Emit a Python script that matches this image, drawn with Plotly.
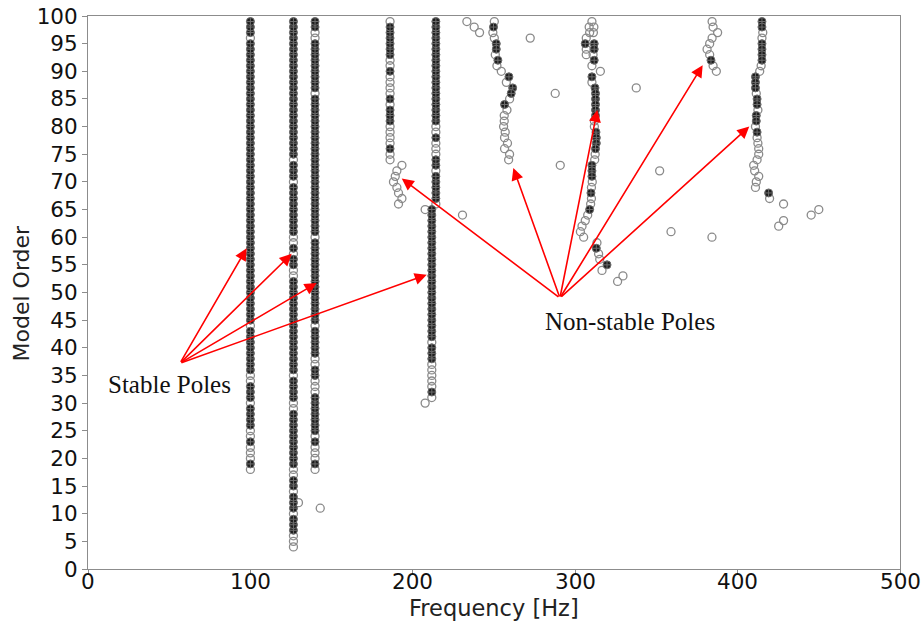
import plotly.graph_objects as go

# ---------------- data ----------------
# straight pole columns: frequency, first/last model order, orders whose pole is NOT stable
COLUMN_FREQS = [100.0, 126.5, 139.8, 186.0, 214.2, 211.7]
COLUMN_FIRST = [18, 4, 18, 74, 66, 31]
COLUMN_LAST = [99, 99, 99, 99, 99, 65]
COLUMN_UNSTABLE = [
    [96, 44, 35, 34, 30, 25, 24, 22, 21, 20, 18],
    [74, 70, 60, 59, 57, 54, 53, 35, 30, 29, 18, 17, 14, 10, 6, 5, 4],
    [97, 96, 86, 60, 44, 38, 37, 34, 33, 32, 24, 22, 21, 20, 18],
    [99, 92, 91, 89, 88, 87, 86, 84, 80, 79, 78, 77, 75, 74],
    [80, 79, 77, 76, 75, 72, 66],
    [41, 37, 36, 35, 34, 33, 31],
]

# scattered / drifting non-stable poles
UNSTABLE_FREQ = [
    193.3, 190.2, 189.2, 188.1, 190.2, 191.2, 193.3, 191.2,           # ~190 Hz zigzag
    207.6, 207.6, 230.6, 233.3, 237.8, 241.1, 272.3,                   # near 210-270 Hz
    250.2, 249.3, 250.2, 250.8, 251.8, 254.5, 257.6, 259.6, 258.0,     # ~255 Hz branch
    256.3, 256.3, 255.9, 256.9, 256.5, 258.3, 256.5, 259.6, 259.0,
    310.3, 308.6, 311.5, 308.9, 311.2, 306.8, 306.8, 306.8, 311.0,     # ~310 Hz branch
    310.3, 315.5, 310.3, 311.8, 311.8, 312.3, 312.0, 310.5, 310.0,
    310.0, 309.5, 307.7, 306.2, 304.2, 303.2, 305.2, 313.4, 314.4,
    315.1, 316.5, 326.1, 329.4,
    287.7, 290.8, 337.6, 352.0, 359.0, 384.2, 129.6, 143.0,            # isolated
    384.3, 384.9, 387.7, 384.3, 382.8, 381.2, 382.8, 384.9, 386.9,     # ~385 Hz branch
    415.5, 415.0, 414.5, 413.6, 411.5, 412.5, 411.0, 412.0, 412.5,     # ~413 Hz branch
    413.0, 413.0, 412.0, 409.9, 410.5, 413.0, 411.5, 411.0, 419.7,
    428.3, 450.0, 445.3, 428.3, 425.3,
]
UNSTABLE_ORDER = [
    73, 72, 71, 70, 69, 68, 67, 66,
    65, 30, 64, 99, 98, 97, 96,
    99, 97, 96, 93, 91, 90, 88, 85, 83,
    82, 81, 80, 79, 78, 77, 76, 75, 74,
    99, 98, 98, 97, 97, 96, 94, 93, 93,
    91, 90, 88, 81, 80, 75, 74, 70, 69,
    67, 66, 64, 63, 62, 61, 60, 59, 57,
    56, 54, 52, 53,
    86, 73, 87, 72, 61, 60, 12, 11,
    99, 98, 97, 96, 95, 94, 93, 91, 90,
    97, 96, 91, 90, 86, 83, 80, 78, 77,
    76, 75, 74, 73, 72, 71, 70, 69, 67,
    66, 65, 64, 63, 62,
]

# drifting stable poles
STABLE_FREQ = [
    249.7, 251.4, 251.4, 252.4, 259.2, 261.5, 260.6, 256.5,
    306.2, 311.7, 311.7, 311.7, 310.3, 312.2, 312.5, 312.5, 312.5, 312.5,
    312.5, 312.8, 313.0, 313.0, 312.5, 310.3, 310.3, 310.3, 309.7, 308.9,
    313.0, 319.6,
    383.6,
    415.0, 415.0, 415.0, 415.0, 415.0, 415.0, 411.0, 411.0, 411.0, 412.0,
    412.0, 411.5, 411.5, 412.0, 419.1,
]
STABLE_ORDER = [
    98, 95, 94, 92, 89, 87, 86, 84,
    95, 95, 94, 92, 89, 87, 86, 85, 84, 83,
    82, 79, 78, 77, 76, 73, 72, 71, 68, 65,
    58, 55,
    92,
    99, 98, 95, 94, 93, 92, 89, 88, 87, 85,
    84, 82, 81, 79, 68,
]

STABLE_LABEL = "Stable Poles"
NONSTABLE_LABEL = "Non-stable Poles"
STABLE_TAIL = (56.6, 37.2)
STABLE_HEADS = [(97.7, 58.0), (125.4, 57.0), (140.8, 51.7), (208.6, 53.2)]
NONSTABLE_TAIL = (290.6, 49.0)
NONSTABLE_HEADS = [(193.2, 70.6), (261.9, 72.5), (313.6, 83.0), (378.5, 91.1), (407.2, 80.0)]

X_TICKS = [0, 100, 200, 300, 400, 500]
X_TICK_LABELS = ["0", "100", "200", "300", "400", "500"]
Y_TICKS = list(range(0, 101, 5))
X_TITLE = "Frequency [Hz]"
Y_TITLE = "Model Order"

# ---------------- assemble points ----------------
gx, gy = list(UNSTABLE_FREQ), list(UNSTABLE_ORDER)
sx, sy = list(STABLE_FREQ), list(STABLE_ORDER)
for f, a, b, uns in zip(COLUMN_FREQS, COLUMN_FIRST, COLUMN_LAST, COLUMN_UNSTABLE):
    for o in range(a, b + 1):
        if o in uns:
            gx.append(f); gy.append(o)
        else:
            sx.append(f); sy.append(o)

fig = go.Figure()
fig.add_trace(go.Scatter(
    x=gx, y=gy, mode="markers",
    marker=dict(symbol="circle-open", size=8, color="#8a8a8a", line=dict(width=1.3, color="#8a8a8a")),
    showlegend=False, hoverinfo="x+y"))
fig.add_trace(go.Scatter(
    x=sx, y=sy, mode="markers",
    marker=dict(symbol="circle-cross", size=8, color="#1e1e1e", line=dict(width=1.0, color="#6e6e6e")),
    showlegend=False, hoverinfo="x+y"))

ann = []
for hx, hy in STABLE_HEADS:
    ann.append(dict(x=hx, y=hy, ax=STABLE_TAIL[0], ay=STABLE_TAIL[1], xref="x", yref="y",
                    axref="x", ayref="y", text="", showarrow=True, arrowhead=2, arrowsize=1.5,
                    arrowwidth=1.6, arrowcolor="#ff0000", standoff=0, startstandoff=0))
for hx, hy in NONSTABLE_HEADS:
    ann.append(dict(x=hx, y=hy, ax=NONSTABLE_TAIL[0], ay=NONSTABLE_TAIL[1], xref="x", yref="y",
                    axref="x", ayref="y", text="", showarrow=True, arrowhead=2, arrowsize=1.5,
                    arrowwidth=1.6, arrowcolor="#ff0000", standoff=0, startstandoff=0))
ann.append(dict(x=50.2, y=33.4, xref="x", yref="y", text=STABLE_LABEL, showarrow=False,
                font=dict(family="Liberation Serif", size=25, color="#111")))
ann.append(dict(x=333.7, y=44.8, xref="x", yref="y", text=NONSTABLE_LABEL, showarrow=False,
                font=dict(family="Liberation Serif", size=25, color="#111")))
# x tick labels (placed tight under the axis like the reference)
for tv, tl in zip(X_TICKS, X_TICK_LABELS):
    ann.append(dict(x=tv, y=-0.0235, xref="x", yref="paper", text=tl, showarrow=False,
                    xanchor="center", yanchor="middle",
                    font=dict(family="DejaVu Sans", size=21.5, color="#111")))
# axis titles
ann.append(dict(x=0.5, y=-0.0705, xref="paper", yref="paper", text=X_TITLE, showarrow=False,
                xanchor="center", yanchor="middle",
                font=dict(family="DejaVu Sans", size=22.5, color="#222")))
ann.append(dict(x=-0.0813, y=0.5, xref="paper", yref="paper", text=Y_TITLE, showarrow=False,
                textangle=-90, xanchor="center", yanchor="middle",
                font=dict(family="DejaVu Sans", size=22, color="#222")))

axis_common = dict(showgrid=False, zeroline=False, showline=True, mirror=True, automargin=False,
                   linecolor="#8c8c8c", linewidth=1, ticks="outside", ticklen=5,
                   tickcolor="#8c8c8c", tickfont=dict(family="DejaVu Sans", size=21.5, color="#111"))

fig.update_layout(
    width=922, height=629,
    margin=dict(l=88, r=22, t=16, b=60, autoexpand=False),
    paper_bgcolor="white", plot_bgcolor="white",
    xaxis=dict(range=[0, 500], tickvals=X_TICKS, showticklabels=False, **axis_common),
    yaxis=dict(range=[0, 100], tickvals=Y_TICKS, **axis_common),
    annotations=ann,
)

fig.write_html("out.html")
